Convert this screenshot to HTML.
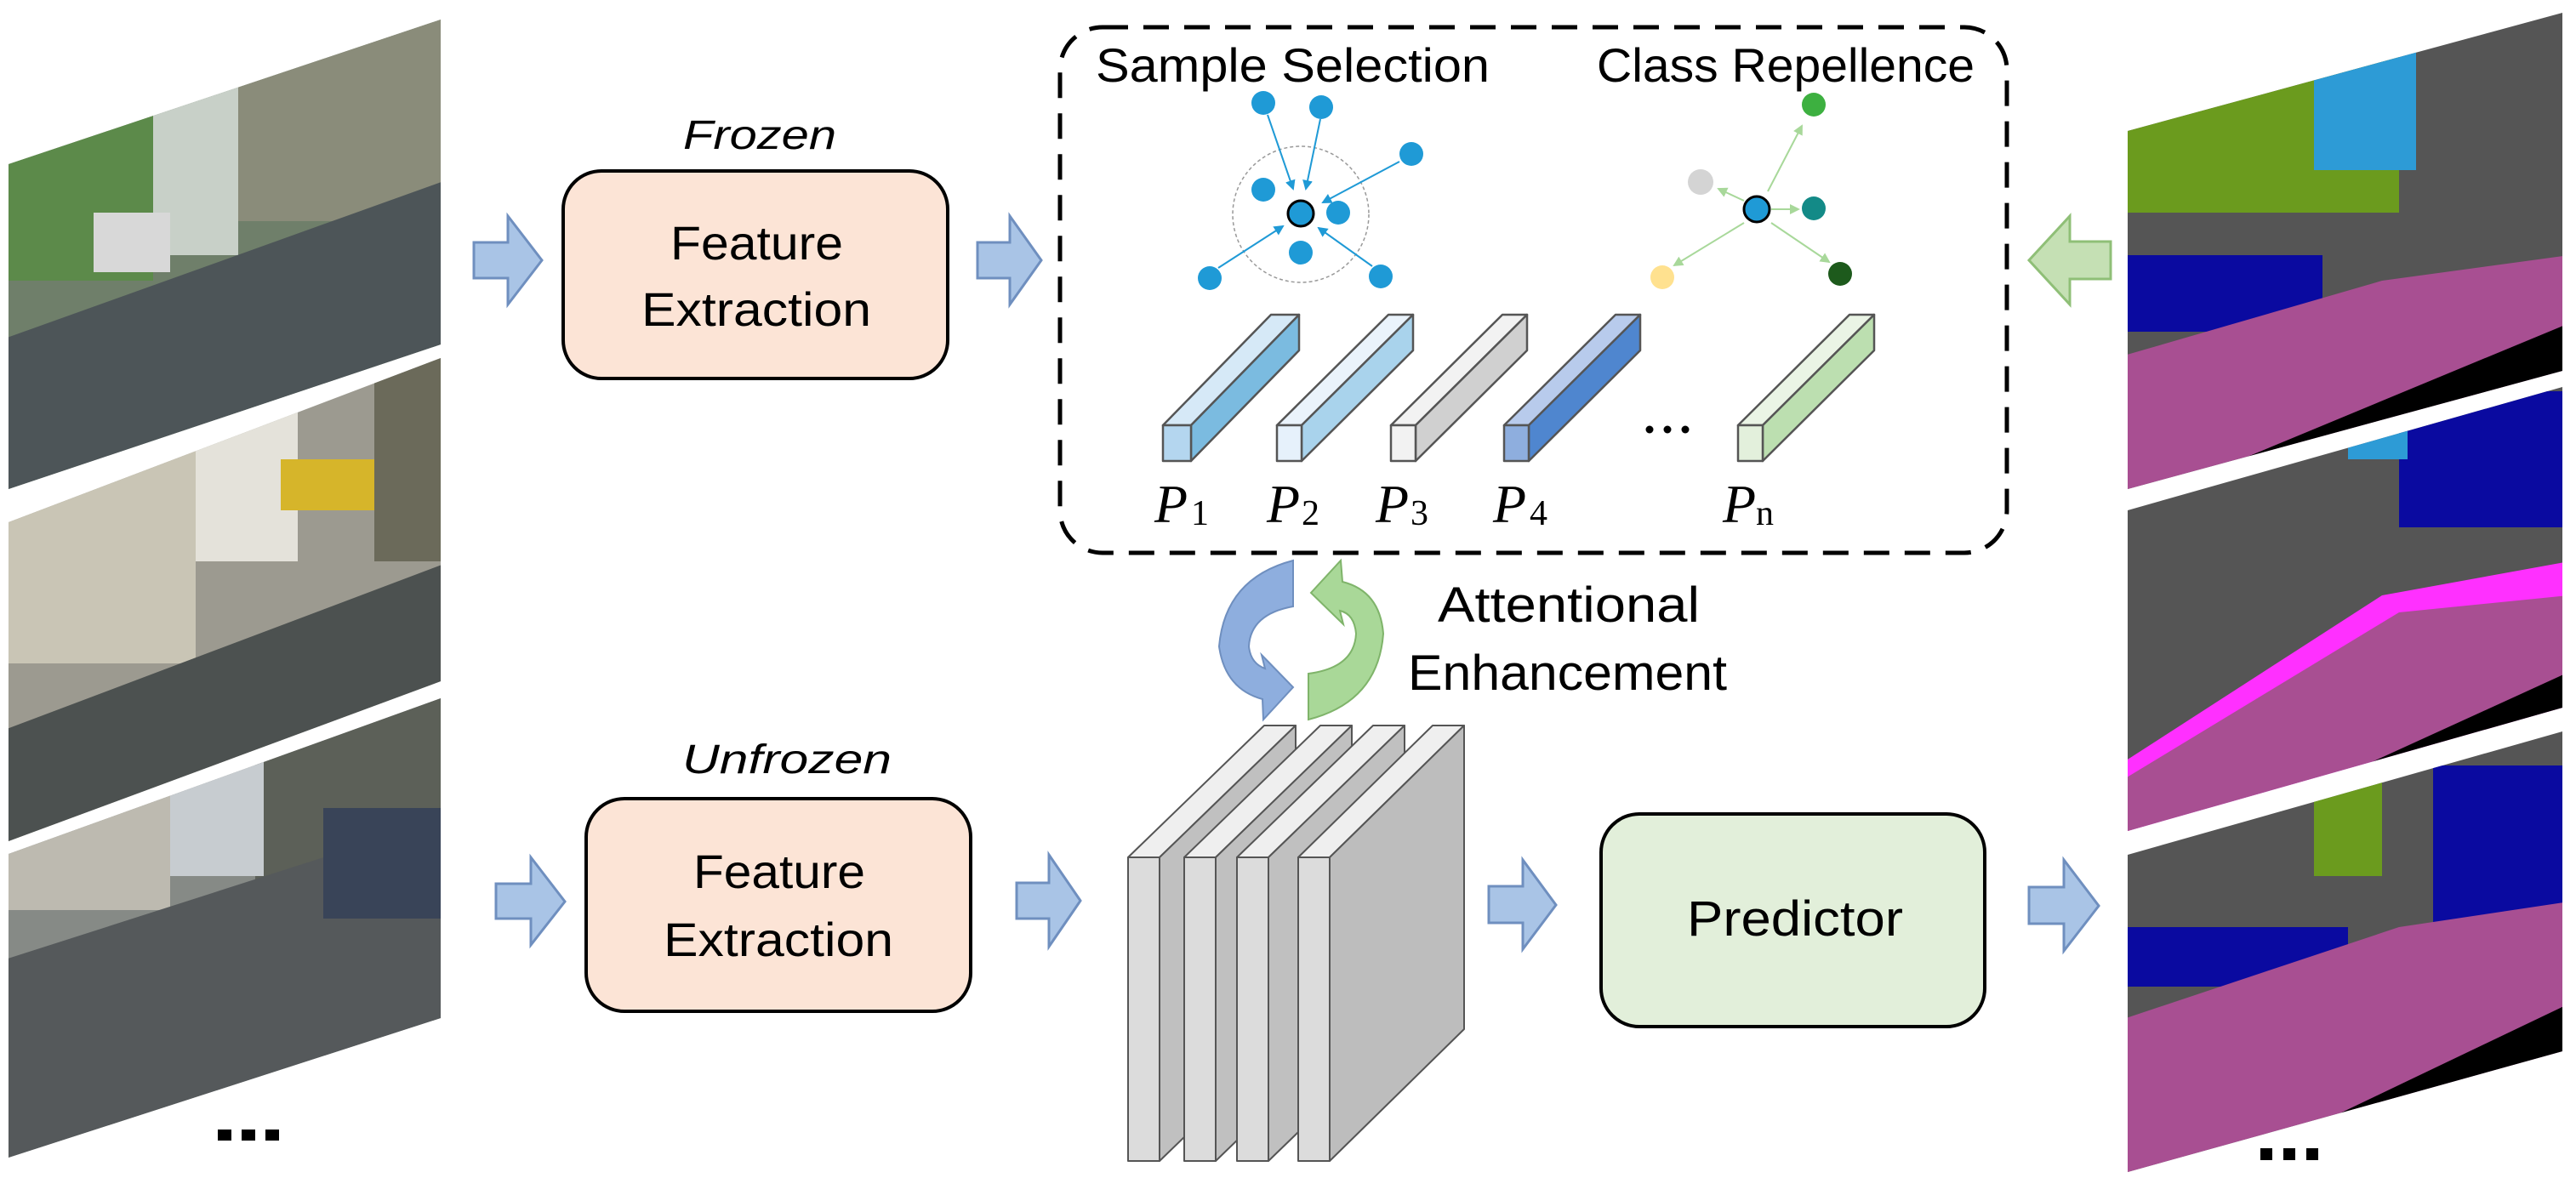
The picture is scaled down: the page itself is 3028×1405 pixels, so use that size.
<!DOCTYPE html>
<html><head><meta charset="utf-8"><style>html,body{margin:0;padding:0;background:#fff;}svg{display:block}</style></head>
<body>
<svg width="3028" height="1405" viewBox="0 0 3028 1405" xmlns="http://www.w3.org/2000/svg">
<defs>
<clipPath id="ph1"><polygon points="10,193 518,23 518,405 10,575"/></clipPath>
<clipPath id="ph2"><polygon points="10,614 518,421 518,801 10,989"/></clipPath>
<clipPath id="ph3"><polygon points="10,1004 518,821 518,1197 10,1361"/></clipPath>
<clipPath id="sg1"><polygon points="2501,154 3012,15 3012,436 2501,575"/></clipPath>
<clipPath id="sg2"><polygon points="2501,600 3012,455 3012,832 2501,977"/></clipPath>
<clipPath id="sg3"><polygon points="2501,1005 3012,860 3012,1236 2501,1378"/></clipPath>
<marker id="mb" markerWidth="6" markerHeight="6" refX="5" refY="3" orient="auto"><path d="M0,0 L6,3 L0,6z" fill="#1f9ad6"/></marker>
<marker id="mg" markerWidth="6" markerHeight="6" refX="5" refY="3" orient="auto"><path d="M0,0 L6,3 L0,6z" fill="#a8d89a"/></marker>
</defs>

<!-- Photos -->
<g clip-path="url(#ph1)">
<rect x="0" y="0" width="530" height="600" fill="#6f7f6a"/>
<rect x="0" y="0" width="180" height="330" fill="#5c8a4a"/>
<rect x="280" y="0" width="240" height="260" fill="#8a8c7a"/>
<rect x="180" y="100" width="100" height="200" fill="#c8d0c8"/>
<polygon points="0,400 530,210 530,600 0,600" fill="#4d5558"/>
<rect x="110" y="250" width="90" height="70" fill="#d8d8d8"/>
</g>
<g clip-path="url(#ph2)">
<rect x="0" y="400" width="530" height="600" fill="#9c9a90"/>
<rect x="0" y="400" width="230" height="380" fill="#c9c5b5"/>
<rect x="230" y="420" width="120" height="240" fill="#e4e2da"/>
<rect x="440" y="400" width="90" height="260" fill="#6b6a5a"/>
<rect x="330" y="540" width="110" height="60" fill="#d6b52a"/>
<polygon points="0,860 530,660 530,1000 0,1000" fill="#4c5150"/>
</g>
<g clip-path="url(#ph3)">
<rect x="0" y="800" width="530" height="600" fill="#868a86"/>
<rect x="0" y="850" width="200" height="220" fill="#bdbab0"/>
<rect x="300" y="810" width="230" height="250" fill="#5c6058"/>
<rect x="200" y="880" width="110" height="150" fill="#c7ccd0"/>
<polygon points="0,1130 530,960 530,1400 0,1400" fill="#55595b"/>
<rect x="380" y="950" width="140" height="130" fill="#394458"/>
</g>
<g fill="#000"><rect x="256" y="1328" width="16" height="13"/><rect x="284" y="1328" width="16" height="13"/><rect x="312" y="1328" width="16" height="13"/></g>

<!-- block arrows -->
<g fill="#a9c4e6" stroke="#6f8fbf" stroke-width="3">
<polygon points="557,285 597,285 597,254 637,306 597,358 597,327 557,327"/>
<polygon points="1149,285 1187,285 1187,254 1224,306 1187,358 1187,327 1149,327"/>
<polygon points="583,1039 624,1039 624,1008 664,1060 624,1111 624,1080 583,1080"/>
<polygon points="1195,1038 1233,1038 1233,1005 1270,1059 1233,1113 1233,1080 1195,1080"/>
<polygon points="1750,1042 1790,1042 1790,1011 1829,1064 1790,1116 1790,1085 1750,1085"/>
<polygon points="2385,1043 2426,1043 2426,1011 2467,1065 2426,1118 2426,1086 2385,1086"/>
</g>
<polygon points="2481,284 2433,284 2433,254 2385,306 2433,358 2433,328 2481,328" fill="#c5e0b4" stroke="#8fbf77" stroke-width="3"/>

<!-- Feature extraction boxes -->
<rect x="662" y="201" width="452" height="244" rx="45" fill="#fce4d6" stroke="#000" stroke-width="4"/>
<rect x="689" y="939" width="452" height="250" rx="45" fill="#fce4d6" stroke="#000" stroke-width="4"/>
<g font-family="Liberation Sans, sans-serif" font-size="56" fill="#000">
<text x="803" y="175" font-style="italic" textLength="180" lengthAdjust="spacingAndGlyphs" font-size="48">Frozen</text>
<text x="788" y="305" textLength="203" lengthAdjust="spacingAndGlyphs">Feature</text>
<text x="754" y="383" textLength="270" lengthAdjust="spacingAndGlyphs">Extraction</text>
<text x="802" y="909" font-style="italic" textLength="246" lengthAdjust="spacingAndGlyphs" font-size="48">Unfrozen</text>
<text x="815" y="1044" textLength="202" lengthAdjust="spacingAndGlyphs">Feature</text>
<text x="780" y="1124" textLength="270" lengthAdjust="spacingAndGlyphs">Extraction</text>
</g>

<!-- dashed box -->
<rect x="1246" y="32" width="1113" height="618" rx="50" fill="none" stroke="#000" stroke-width="5" stroke-dasharray="30,18"/>
<g font-family="Liberation Sans, sans-serif" font-size="56" fill="#000">
<text x="1288" y="96" textLength="463" lengthAdjust="spacingAndGlyphs">Sample Selection</text>
<text x="1877" y="96" textLength="444" lengthAdjust="spacingAndGlyphs">Class Repellence</text>
</g>

<!-- sample selection -->
<ellipse cx="1529" cy="252" rx="80" ry="80" fill="none" stroke="#999" stroke-width="1.5" stroke-dasharray="4,3"/>
<g stroke="#1f9ad6" stroke-width="2" marker-end="url(#mb)">
<line x1="1490" y1="135" x2="1520" y2="222"/>
<line x1="1552" y1="140" x2="1535" y2="222"/>
<line x1="1645" y1="190" x2="1555" y2="238"/>
<line x1="1432" y1="315" x2="1508" y2="266"/>
<line x1="1613" y1="313" x2="1550" y2="268"/>
</g>
<g fill="#1f9ad6">
<circle cx="1485" cy="121" r="14"/><circle cx="1553" cy="126" r="14"/><circle cx="1659" cy="181" r="14"/>
<circle cx="1485" cy="223" r="14"/><circle cx="1573" cy="250" r="14"/><circle cx="1529" cy="297" r="14"/>
<circle cx="1422" cy="327" r="14"/><circle cx="1623" cy="325" r="14"/>
</g>
<circle cx="1529" cy="251" r="15" fill="#1f9ad6" stroke="#000" stroke-width="3"/>

<!-- class repellence -->
<g stroke="#a8d89a" stroke-width="2" marker-end="url(#mg)">
<line x1="2078" y1="225" x2="2118" y2="148"/>
<line x1="2050" y1="236" x2="2020" y2="222"/>
<line x1="2082" y1="246" x2="2114" y2="246"/>
<line x1="2050" y1="262" x2="1968" y2="312"/>
<line x1="2082" y1="262" x2="2150" y2="308"/>
</g>
<circle cx="2132" cy="123" r="14" fill="#3db040"/>
<circle cx="1999" cy="214" r="15" fill="#d4d4d4"/>
<circle cx="2132" cy="245" r="14" fill="#138a87"/>
<circle cx="1954" cy="326" r="14" fill="#ffe18f"/>
<circle cx="2163" cy="322" r="14" fill="#1d5a1c"/>
<circle cx="2065" cy="246" r="15" fill="#1f9ad6" stroke="#000" stroke-width="3"/>

<!-- prototype bars -->
<g stroke="#555" stroke-width="2.5" stroke-linejoin="round">
<g><polygon points="1367,500 1400,500 1527,370 1494,370" fill="#d6e9f7"/><polygon points="1400,500 1527,370 1527,412 1400,542" fill="#7bbbe0"/><rect x="1367" y="500" width="33" height="42" fill="#b4d6ef"/></g>
<g><polygon points="1501,500 1530,500 1661,370 1632,370" fill="#eaf3fb"/><polygon points="1530,500 1661,370 1661,412 1530,542" fill="#a9d3ec"/><rect x="1501" y="500" width="29" height="42" fill="#e6f1fb"/></g>
<g><polygon points="1635,500 1664,500 1795,370 1766,370" fill="#f2f2f2"/><polygon points="1664,500 1795,370 1795,412 1664,542" fill="#d0d0d0"/><rect x="1635" y="500" width="29" height="42" fill="#f2f2f2"/></g>
<g><polygon points="1768,500 1797,500 1928,370 1899,370" fill="#b8cbec"/><polygon points="1797,500 1928,370 1928,412 1797,542" fill="#4f86cf"/><rect x="1768" y="500" width="29" height="42" fill="#8eaede"/></g>
<g><polygon points="2043,500 2072,500 2203,370 2174,370" fill="#eaf4e5"/><polygon points="2072,500 2203,370 2203,412 2072,542" fill="#bcdfb0"/><rect x="2043" y="500" width="29" height="42" fill="#e3f0dc"/></g>
</g>
<g fill="#000"><circle cx="1939" cy="505" r="4.5"/><circle cx="1960" cy="505" r="4.5"/><circle cx="1981" cy="505" r="4.5"/></g>
<g font-family="Liberation Serif, serif" fill="#000">
<text x="1357" y="614" font-size="64" font-style="italic">P</text><text x="1400" y="617" font-size="42">1</text>
<text x="1489" y="614" font-size="64" font-style="italic">P</text><text x="1530" y="617" font-size="42">2</text>
<text x="1617" y="614" font-size="64" font-style="italic">P</text><text x="1658" y="617" font-size="42">3</text>
<text x="1755" y="614" font-size="64" font-style="italic">P</text><text x="1798" y="617" font-size="42">4</text>
<text x="2025" y="614" font-size="64" font-style="italic">P</text><text x="2064" y="617" font-size="42">n</text>
</g>

<!-- attention circular arrows -->
<path d="M1520,659 L1520,713 Q1470,722 1468,760 Q1470,780 1487,786 L1483,770 L1520,808 L1485,846 L1484,822 Q1440,810 1433,760 Q1440,680 1520,659Z" fill="#8eaede" stroke="#6f8fbf" stroke-width="2"/>
<path d="M1538,846 L1538,792 Q1592,785 1594,745 Q1592,722 1575,718 L1579,734 L1541,697 L1576,659 L1578,684 Q1622,695 1626,745 Q1620,825 1538,846Z" fill="#a9d898" stroke="#7fb46a" stroke-width="2"/>
<g font-family="Liberation Sans, sans-serif" font-size="58" fill="#000">
<text x="1690" y="731" textLength="308" lengthAdjust="spacingAndGlyphs">Attentional</text>
<text x="1655" y="811" textLength="375" lengthAdjust="spacingAndGlyphs">Enhancement</text>
</g>

<!-- feature map stack -->
<g stroke="#555" stroke-width="2" stroke-linejoin="round">
<g><polygon points="1326,1008 1363,1008 1523,853 1486,853" fill="#efefef"/><polygon points="1363,1008 1523,853 1523,1210 1363,1365" fill="#c0c0c0"/><rect x="1326" y="1008" width="37" height="357" fill="#dcdcdc"/></g>
<g><polygon points="1392,1008 1429,1008 1589,853 1552,853" fill="#efefef"/><polygon points="1429,1008 1589,853 1589,1210 1429,1365" fill="#c0c0c0"/><rect x="1392" y="1008" width="37" height="357" fill="#dcdcdc"/></g>
<g><polygon points="1454,1008 1491,1008 1651,853 1614,853" fill="#efefef"/><polygon points="1491,1008 1651,853 1651,1210 1491,1365" fill="#c0c0c0"/><rect x="1454" y="1008" width="37" height="357" fill="#dcdcdc"/></g>
<g><polygon points="1526,1008 1563,1008 1721,853 1684,853" fill="#efefef"/><polygon points="1563,1008 1721,853 1721,1210 1563,1365" fill="#bdbdbd"/><rect x="1526" y="1008" width="37" height="357" fill="#dcdcdc"/></g>
</g>

<!-- predictor -->
<rect x="1882" y="957" width="451" height="250" rx="45" fill="#e2efda" stroke="#000" stroke-width="4"/>
<text x="1983" y="1100" font-family="Liberation Sans, sans-serif" font-size="58" textLength="254" lengthAdjust="spacingAndGlyphs">Predictor</text>

<!-- segmentation maps -->
<g clip-path="url(#sg1)">
<rect x="2490" y="0" width="530" height="600" fill="#555"/>
<rect x="2490" y="0" width="330" height="250" fill="#6b9b1e"/>
<rect x="2720" y="0" width="120" height="200" fill="#2d9bd6"/>
<rect x="2500" y="300" width="230" height="90" fill="#0a0aa0"/>
<polygon points="2490,420 2800,330 3020,300 3020,600 2490,600" fill="#a84f92"/>
<polygon points="2490,600 3020,380 3020,600" fill="#000"/>
<polygon points="2490,600 3020,410 3020,600" fill="#fff" opacity="0"/>
</g>
<g clip-path="url(#sg2)">
<rect x="2490" y="440" width="530" height="560" fill="#555"/>
<rect x="2820" y="460" width="200" height="160" fill="#0a0aa0"/>
<rect x="2760" y="460" width="70" height="80" fill="#2d9bd6"/>
<polygon points="2490,900 2800,700 3020,660 3020,1000 2490,1000" fill="#ff30ff"/>
<polygon points="2490,920 2820,720 3020,700 3020,1000 2490,1000" fill="#a84f92"/>
<polygon points="2560,1000 3020,790 3020,1000" fill="#000"/>
</g>
<g clip-path="url(#sg3)">
<rect x="2490" y="850" width="530" height="550" fill="#555"/>
<rect x="2720" y="890" width="80" height="140" fill="#6b9b1e"/>
<rect x="2860" y="900" width="160" height="190" fill="#0a0aa0"/>
<rect x="2500" y="1090" width="260" height="70" fill="#0a0aa0"/>
<polygon points="2490,1200 2820,1090 3020,1060 3020,1400 2490,1400" fill="#a84f92"/>
<polygon points="2560,1400 3020,1180 3020,1400" fill="#000"/>
</g>
<g fill="#000"><rect x="2657" y="1350" width="14" height="14"/><rect x="2684" y="1350" width="14" height="14"/><rect x="2711" y="1350" width="14" height="14"/></g>
</svg>
</body></html>
